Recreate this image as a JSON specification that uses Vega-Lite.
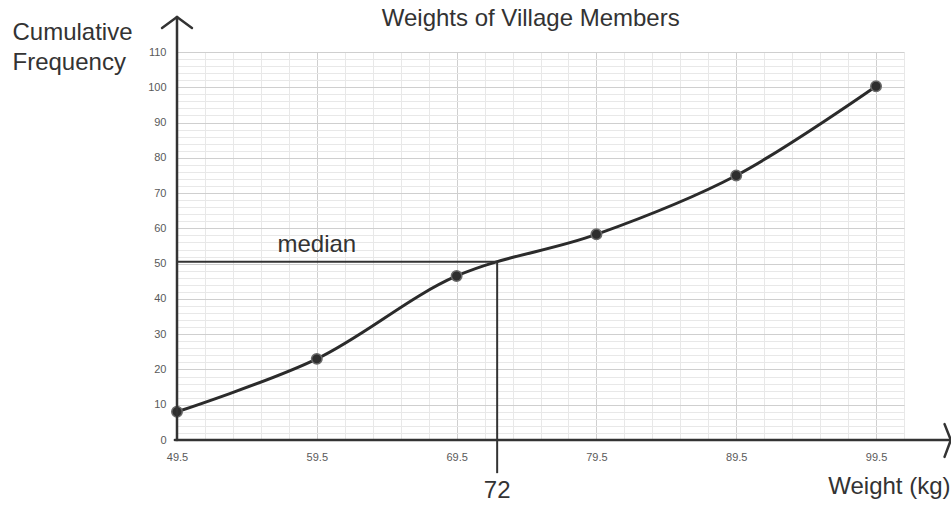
{
  "$schema": "https://vega.github.io/schema/vega-lite/v6.json",
  "width": 727,
  "height": 388,
  "autosize": {"type": "none"},
  "padding": {"left": 177, "top": 52, "right": 47, "bottom": 65},
  "background": "white",
  "config": {"view": {"stroke": null}, "font": "Liberation Sans"},
  "datasets": {
    "cf": [
      {"weight": 49.5, "cf": 8},
      {"weight": 59.5, "cf": 23},
      {"weight": 69.5, "cf": 46.5},
      {"weight": 79.5, "cf": 58.3},
      {"weight": 89.5, "cf": 75},
      {"weight": 99.5, "cf": 100.3}
    ],
    "axes": [
      {"part": "y axis", "x1": 49.5, "y1": 0, "x2": 49.5, "y2": 119.9},
      {"part": "y arrow left", "x1": 48.43, "y1": 116.8, "x2": 49.5, "y2": 119.9},
      {"part": "y arrow right", "x1": 50.57, "y1": 116.8, "x2": 49.5, "y2": 119.9},
      {"part": "x axis", "x1": 49.35, "y1": 0, "x2": 104.85, "y2": 0},
      {"part": "x arrow upper", "x1": 104.4, "y1": 4.5, "x2": 104.85, "y2": 0},
      {"part": "x arrow lower", "x1": 104.4, "y1": -4.8, "x2": 104.85, "y2": 0}
    ],
    "median": [
      {"part": "horizontal", "x1": 49.5, "y1": 50.5, "x2": 72.4, "y2": 50.5},
      {"part": "vertical", "x1": 72.4, "y1": 50.5, "x2": 72.4, "y2": -9.4}
    ],
    "labels": [
      {"text": "median", "weight": 59.5, "cf": 53.3},
      {"text": "72", "weight": 72.4, "cf": -16.4}
    ],
    "title": [
      {"text": "Weights of Village Members", "weight": 74.8, "cf": 117.4}
    ]
  },
  "layer": [
    {
      "data": {"name": "cf"},
      "mark": {"type": "line", "interpolate": "catmull-rom", "color": "#2b2b2b", "strokeWidth": 3},
      "encoding": {
        "x": {
          "field": "weight",
          "type": "quantitative",
          "title": "Weight (kg)",
          "scale": {"domain": [49.5, 101.5], "nice": false, "zero": false},
          "axis": {
            "values": [49.5, 51.5, 53.5, 55.5, 57.5, 59.5, 61.5, 63.5, 65.5, 67.5, 69.5, 71.5, 73.5, 75.5, 77.5, 79.5, 81.5, 83.5, 85.5, 87.5, 89.5, 91.5, 93.5, 95.5, 97.5, 99.5, 101.5],
            "tickCount": 200,
            "format": ".1f",
            "labelExpr": "(datum.value - 49.5) % 10 === 0 ? datum.label : ''",
            "grid": true,
            "gridColor": {"condition": {"test": "(datum.value - 49.5) % 10 === 0", "value": "#cfcfcf"}, "value": "#e8e8e8"},
            "gridWidth": 1,
            "ticks": false,
            "domain": false,
            "labelFlush": false,
            "labelOverlap": false,
            "labelFont": "Liberation Sans",
            "labelFontSize": 11,
            "labelColor": "#595959",
            "labelPadding": 11,
            "title": "Weight (kg)",
            "titleFont": "Liberation Sans",
            "titleFontSize": 24,
            "titleFontWeight": "normal",
            "titleColor": "#333333",
            "titleAlign": "right",
            "titleBaseline": "alphabetic",
            "titleX": 773,
            "titleY": 53
          }
        },
        "y": {
          "field": "cf",
          "type": "quantitative",
          "title": ["Cumulative", "Frequency"],
          "scale": {"domain": [0, 110], "nice": false, "zero": false},
          "axis": {
            "values": [0, 2, 4, 6, 8, 10, 12, 14, 16, 18, 20, 22, 24, 26, 28, 30, 32, 34, 36, 38, 40, 42, 44, 46, 48, 50, 52, 54, 56, 58, 60, 62, 64, 66, 68, 70, 72, 74, 76, 78, 80, 82, 84, 86, 88, 90, 92, 94, 96, 98, 100, 102, 104, 106, 108, 110],
            "tickCount": 200,
            "format": "d",
            "labelExpr": "datum.value % 10 === 0 ? datum.label : ''",
            "grid": true,
            "gridColor": {"condition": {"test": "datum.value % 10 === 0", "value": "#cfcfcf"}, "value": "#e8e8e8"},
            "gridWidth": 1,
            "ticks": false,
            "domain": false,
            "labelOverlap": false,
            "labelFont": "Liberation Sans",
            "labelFontSize": 11,
            "labelColor": "#595959",
            "labelPadding": 11,
            "title": ["Cumulative", "Frequency"],
            "titleAngle": 0,
            "titleFont": "Liberation Sans",
            "titleFontSize": 24,
            "titleFontWeight": "normal",
            "titleColor": "#333333",
            "titleAlign": "left",
            "titleBaseline": "alphabetic",
            "titleLineHeight": 30,
            "titleX": -165,
            "titleY": -13
          }
        }
      }
    },
    {
      "data": {"name": "cf"},
      "mark": {"type": "point", "filled": true, "fill": "#2e2e2e", "stroke": "#6a6a6a", "strokeWidth": 1.5, "size": 110, "opacity": 1},
      "encoding": {
        "x": {"field": "weight", "type": "quantitative", "title": "Weight (kg)"},
        "y": {"field": "cf", "type": "quantitative", "title": ["Cumulative", "Frequency"]}
      }
    },
    {
      "data": {"name": "axes"},
      "mark": {"type": "rule", "color": "#333333", "strokeWidth": 2.5, "strokeCap": "round"},
      "encoding": {
        "x": {"field": "x1", "type": "quantitative", "title": "Weight (kg)"},
        "y": {"field": "y1", "type": "quantitative", "title": ["Cumulative", "Frequency"]},
        "x2": {"field": "x2"},
        "y2": {"field": "y2"}
      }
    },
    {
      "data": {"name": "median"},
      "mark": {"type": "rule", "color": "#333333", "strokeWidth": 2},
      "encoding": {
        "x": {"field": "x1", "type": "quantitative", "title": "Weight (kg)"},
        "y": {"field": "y1", "type": "quantitative", "title": ["Cumulative", "Frequency"]},
        "x2": {"field": "x2"},
        "y2": {"field": "y2"}
      }
    },
    {
      "data": {"name": "labels"},
      "mark": {"type": "text", "font": "Liberation Sans", "fontSize": 24, "color": "#333333", "align": "center", "baseline": "alphabetic"},
      "encoding": {
        "x": {"field": "weight", "type": "quantitative", "title": "Weight (kg)"},
        "y": {"field": "cf", "type": "quantitative", "title": ["Cumulative", "Frequency"]},
        "text": {"field": "text"}
      }
    },
    {
      "data": {"name": "title"},
      "mark": {"type": "text", "font": "Liberation Sans", "fontSize": 24, "color": "#333333", "align": "center", "baseline": "alphabetic"},
      "encoding": {
        "x": {"field": "weight", "type": "quantitative", "title": "Weight (kg)"},
        "y": {"field": "cf", "type": "quantitative", "title": ["Cumulative", "Frequency"]},
        "text": {"field": "text"}
      }
    }
  ]
}
